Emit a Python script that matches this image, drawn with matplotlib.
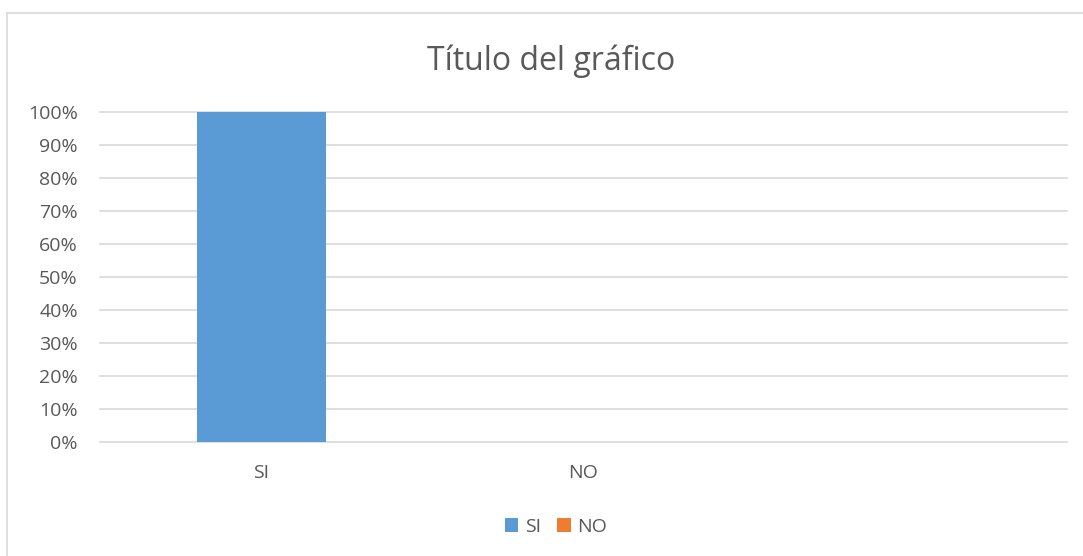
import numpy as np
import matplotlib
matplotlib.use('Agg')
import matplotlib.pyplot as plt
from matplotlib.patches import Patch
from matplotlib.lines import Line2D
from matplotlib.ticker import FuncFormatter

# data
categories = ['SI', 'NO', '']
values = [1.0, 0.0, 0.0]
legend_labels = ['SI', 'NO']
title = 'Título del gráfico'

blue = '#5B9BD5'
orange = '#ED7D31'
text_gray = '#595959'
grid_gray = '#D9D9D9'
bar_colors = [blue, orange, blue]

plt.rcParams['font.family'] = ['Open Sans', 'DejaVu Sans']

W, H = 1083, 556
fig = plt.figure(figsize=(W / 100, H / 100), dpi=100)

# plot area in pixels: x 100..1067, y 112..442
left, right, top, bottom = 100, 1067, 112, 442
ax = fig.add_axes([left / W, 1 - bottom / H, (right - left) / W, (bottom - top) / H])

x = np.arange(len(categories))
ax.bar(x, values, width=0.4, color=bar_colors, linewidth=0, zorder=3)

ax.set_xlim(-0.5, len(categories) - 0.5)
ax.set_ylim(0, 1)
ax.set_yticks(np.arange(0, 1.01, 0.1))
ax.yaxis.set_major_formatter(FuncFormatter(lambda v, p: f'{v * 100:.0f}%'))
ax.set_xticks(x)
ax.set_xticklabels(categories)

ax.grid(axis='y', color=grid_gray, linewidth=1.2, zorder=0)
for gl in ax.get_ygridlines():
    gl.set_clip_on(False)
ax.tick_params(axis='both', length=0, labelsize=14, colors=text_gray)
ax.tick_params(axis='y', pad=16)
ax.tick_params(axis='x', pad=16)
for s in ax.spines.values():
    s.set_visible(False)

fig.text(551 / W, 1 - 61 / H, title, ha='center', va='center',
         fontsize=23, color=text_gray)

handles = [Patch(facecolor=blue, edgecolor='none'),
           Patch(facecolor=orange, edgecolor='none')]
fig.legend(handles, legend_labels, loc='center', bbox_to_anchor=(556 / W, 1 - 527 / H),
           ncol=2, frameon=False, fontsize=14, labelcolor=text_gray,
           handlelength=0.7, handleheight=0.7, handletextpad=0.35, columnspacing=0.8)

# chart area border (only top and left are inside the picture)
fig.add_artist(Line2D([7 / W, 1], [1 - 13 / H, 1 - 13 / H], color=grid_gray, linewidth=1.2))
fig.add_artist(Line2D([7 / W, 7 / W], [0, 1 - 13 / H], color=grid_gray, linewidth=1.2))

fig.savefig('out.png', dpi=100)
